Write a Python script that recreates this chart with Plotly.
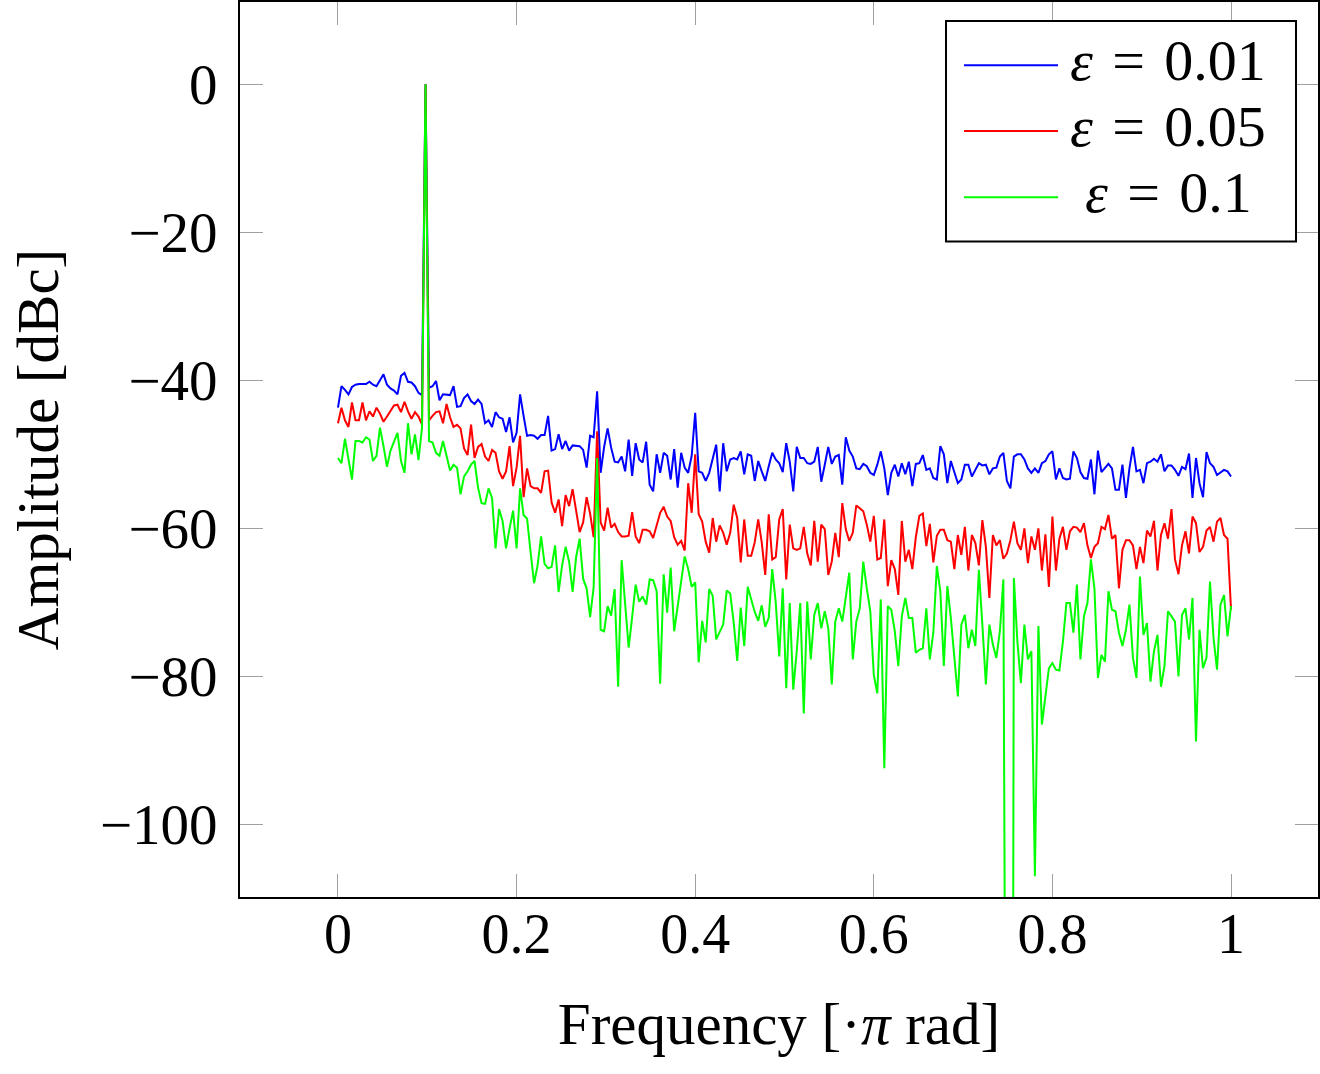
import numpy as np
import plotly.graph_objects as go

# ---------------- data ----------------
frequency = np.linspace(0.0, 1.0, 256)  # normalised frequency [·π rad], 256 bins

eps_001 = [
    -43.7, -40.8, -41.3, -41.9, -40.9, -40.6, -40.5, -40.5, -40.5, -40.2,
    -40.6, -40.8, -40.0, -39.2, -40.6, -41.1, -41.4, -41.9, -39.4, -39.0,
    -40.2, -40.3, -40.8, -41.7, -42.0, 0.0, -41.0, -40.8, -40.1, -42.7,
    -41.9, -41.9, -42.0, -40.8, -43.6, -43.5, -42.4, -41.9, -42.8, -43.2,
    -42.6, -43.2, -45.8, -45.4, -46.3, -44.3, -45.0, -45.2, -47.0, -45.0,
    -48.4, -47.1, -41.9, -44.8, -47.5, -47.4, -47.5, -47.9, -47.4, -47.4,
    -44.8, -49.5, -49.3, -47.3, -49.3, -48.2, -49.5, -48.8, -48.8, -48.9,
    -49.4, -51.8, -47.5, -47.7, -41.5, -52.5, -49.0, -46.5, -49.1, -51.0,
    -51.1, -50.3, -52.3, -48.0, -52.9, -48.5, -50.7, -51.1, -48.3, -54.1,
    -55.0, -50.0, -52.5, -49.8, -50.2, -53.4, -49.3, -54.5, -49.8, -51.8,
    -52.5, -50.2, -44.4, -52.3, -52.5, -53.6, -52.5, -50.5, -48.7, -55.0,
    -48.5, -52.3, -50.7, -50.5, -50.7, -49.6, -52.7, -50.0, -50.2, -53.6,
    -50.9, -52.3, -53.6, -51.6, -49.8, -50.7, -51.2, -52.4, -48.5, -51.0,
    -55.0, -49.0, -50.5, -50.5, -51.2, -51.3, -51.0, -49.0, -53.7, -51.4,
    -49.0, -51.3, -50.3, -50.1, -54.1, -47.7, -49.5, -50.3, -51.9, -52.0,
    -51.3, -51.6, -52.5, -52.8, -51.4, -49.6, -51.9, -55.5, -52.5, -51.4,
    -53.0, -51.2, -52.7, -51.0, -54.3, -51.3, -51.2, -50.1, -52.1, -51.9,
    -53.2, -53.4, -48.9, -50.0, -53.9, -50.9, -52.5, -53.9, -53.4, -51.4,
    -51.4, -53.0, -52.1, -51.2, -51.5, -51.4, -52.7, -51.9, -51.8, -50.3,
    -49.8, -53.6, -54.6, -50.3, -50.0, -50.0, -50.7, -51.9, -52.5, -51.9,
    -52.5, -51.2, -50.9, -50.0, -49.6, -53.4, -51.9, -53.2, -53.4, -53.3,
    -49.6, -50.5, -52.4, -53.2, -53.3, -50.7, -55.4, -49.5, -52.4, -51.8,
    -51.3, -51.9, -54.8, -54.8, -51.4, -55.9, -51.9, -49.0, -52.3, -52.1,
    -53.9, -51.2, -51.0, -50.6, -51.0, -50.0, -52.3, -51.5, -51.5, -52.1,
    -52.9, -51.7, -52.0, -49.9, -55.9, -50.5, -53.9, -55.8, -49.7, -51.2,
    -51.7, -52.8, -52.4, -52.1, -52.3, -53.0,
]

eps_005 = [
    -45.8, -43.7, -45.4, -46.3, -43.0, -45.4, -45.4, -43.0, -45.4, -44.2,
    -44.9, -43.7, -44.5, -45.6, -44.9, -44.2, -43.4, -43.3, -44.3, -42.9,
    -44.2, -45.2, -44.3, -44.9, -46.0, 0.0, -45.4, -44.8, -44.3, -44.2,
    -45.8, -43.2, -45.0, -46.3, -46.0, -46.5, -49.2, -50.1, -46.0, -50.5,
    -49.0, -48.6, -50.3, -50.9, -49.4, -49.8, -52.3, -53.3, -52.3, -48.9,
    -54.3, -51.8, -47.5, -55.8, -51.9, -54.3, -54.6, -54.6, -55.2, -52.3,
    -52.2, -56.5, -57.9, -56.1, -59.7, -55.5, -57.0, -54.7, -57.6, -60.5,
    -59.2, -55.8, -58.0, -61.2, -46.9, -59.2, -60.3, -57.2, -59.9, -59.4,
    -60.5, -61.1, -61.1, -61.0, -57.8, -61.1, -62.0, -60.2, -60.2, -60.4,
    -61.3, -59.7, -57.9, -57.1, -58.4, -59.0, -61.2, -62.2, -61.7, -63.0,
    -53.9, -57.9, -50.0, -58.1, -59.1, -61.8, -63.3, -58.6, -61.8, -59.6,
    -60.6, -62.2, -60.6, -56.8, -58.6, -64.6, -58.8, -63.7, -63.7, -61.9,
    -58.8, -61.9, -66.3, -58.1, -64.2, -63.9, -58.8, -57.4, -66.9, -59.5,
    -62.7, -62.9, -62.7, -59.8, -63.4, -65.0, -59.0, -64.5, -59.5, -60.1,
    -66.3, -64.5, -60.6, -63.9, -56.6, -60.1, -61.7, -60.6, -56.9, -57.3,
    -57.7, -59.5, -61.8, -58.3, -64.2, -64.0, -58.8, -67.8, -64.3, -65.5,
    -69.0, -59.0, -64.5, -62.9, -65.5, -61.2, -58.3, -58.0, -62.4, -59.4,
    -64.6, -61.0, -60.2, -60.2, -61.6, -61.8, -65.5, -60.9, -63.6, -59.8,
    -65.7, -60.9, -62.0, -65.0, -58.9, -62.5, -69.4, -60.9, -62.3, -61.6,
    -64.1, -63.4, -61.6, -59.1, -62.0, -62.9, -60.0, -64.7, -61.1, -62.9,
    -60.0, -65.7, -60.8, -67.9, -58.4, -65.7, -61.4, -59.8, -62.9, -60.4,
    -59.8, -59.9, -60.5, -59.3, -62.3, -64.0, -62.5, -62.0, -59.8, -60.1,
    -58.2, -61.4, -60.9, -68.1, -62.9, -61.6, -61.6, -62.3, -65.5, -62.5,
    -64.7, -60.3, -61.1, -59.0, -65.7, -60.9, -59.3, -61.4, -57.4, -64.2,
    -66.2, -62.3, -60.4, -63.4, -58.4, -59.3, -63.2, -62.5, -60.3, -59.8,
    -61.8, -59.1, -58.6, -60.9, -61.4, -71.0,
]

eps_01 = [
    -50.5, -51.2, -47.9, -50.5, -53.4, -48.2, -48.2, -48.4, -47.7, -48.0,
    -50.9, -50.2, -46.4, -48.9, -51.7, -49.5, -48.2, -47.1, -50.9, -52.5,
    -45.8, -50.0, -47.3, -50.8, -46.4, 0.0, -48.2, -48.4, -49.8, -50.2,
    -48.2, -50.2, -52.2, -51.4, -51.8, -55.4, -53.0, -52.3, -51.4, -50.9,
    -54.5, -56.6, -56.7, -54.6, -55.9, -62.7, -57.4, -59.0, -62.7, -60.0,
    -57.6, -62.7, -54.6, -58.2, -58.7, -63.2, -67.4, -65.0, -61.1, -64.8,
    -65.4, -65.2, -62.3, -68.6, -65.0, -62.5, -64.5, -68.6, -63.9, -61.4,
    -66.8, -68.1, -72.0, -68.0, -50.5, -73.7, -73.9, -70.5, -71.8, -68.2,
    -81.4, -64.3, -69.8, -76.1, -72.0, -67.6, -69.9, -69.2, -70.3, -66.9,
    -67.0, -68.5, -81.0, -66.2, -71.4, -65.3, -73.9, -70.3, -66.7, -63.8,
    -65.5, -67.9, -67.3, -78.1, -72.5, -75.4, -68.2, -69.1, -75.0, -74.1,
    -73.0, -68.4, -68.8, -72.7, -77.9, -70.7, -75.9, -67.9, -69.7, -71.3,
    -72.5, -70.4, -73.3, -72.1, -65.5, -70.0, -77.3, -68.1, -81.6, -70.1,
    -81.8, -76.6, -70.1, -85.0, -69.9, -77.7, -71.7, -70.1, -73.5, -71.2,
    -73.5, -81.1, -72.6, -70.8, -72.6, -69.4, -66.0, -77.7, -72.6, -70.8,
    -64.5, -68.1, -71.2, -79.8, -82.3, -69.6, -92.4, -70.5, -71.0, -73.9,
    -78.6, -71.9, -69.4, -72.1, -72.1, -76.8, -76.4, -76.2, -70.8, -77.7,
    -74.1, -65.1, -68.5, -78.6, -67.8, -72.1, -77.7, -82.7, -73.0, -71.7,
    -76.2, -73.7, -75.9, -65.6, -73.0, -81.1, -73.0, -75.7, -77.5, -73.9,
    -66.9, -300.0, -300.0, -66.7, -75.3, -80.9, -73.0, -77.7, -76.6, -107.0,
    -73.2, -86.5, -82.5, -78.9, -78.2, -79.1, -79.2, -75.3, -70.1, -70.1,
    -74.1, -67.6, -77.7, -71.9, -70.1, -64.2, -68.1, -80.2, -77.1, -78.0,
    -68.5, -71.0, -71.2, -74.1, -75.9, -73.7, -70.3, -77.5, -80.2, -66.5,
    -74.4, -72.8, -80.7, -76.6, -74.4, -81.4, -78.6, -71.2, -71.9, -72.6,
    -80.0, -71.7, -70.8, -75.0, -69.4, -88.8, -73.7, -78.9, -77.5, -67.2,
    -74.8, -79.1, -70.3, -69.0, -74.6, -70.5,
]

series_names = ["ε = 0.01", "ε = 0.05", "ε = 0.1"]
series_values = [eps_001, eps_005, eps_01]
series_colors = ["#0000ff", "#ff0000", "#00ff00"]

x_ticks = [0, 0.2, 0.4, 0.6, 0.8, 1]
x_tick_labels = ["0", "0.2", "0.4", "0.6", "0.8", "1"]
y_ticks = [-100, -80, -60, -40, -20, 0]

# ---------------- figure ----------------
W, H = 1320, 1074
ML, MR, MT, MB = 240, 2, 0, 177
PW, PH = W - ML - MR, H - MT - MB
FONT = "Liberation Serif"


def px_x(px):
    return (px - ML) / PW


def px_y(py):
    return 1 - (py - MT) / PH


fig = go.Figure()
for name, vals, col in zip(series_names, series_values, series_colors):
    fig.add_trace(go.Scatter(
        x=frequency, y=vals, mode="lines", name=name,
        line=dict(color=col, width=2), showlegend=False,
    ))

axis_common = dict(
    showline=True, linecolor="black", linewidth=2, mirror="ticks",
    ticks="inside", ticklen=23, tickwidth=1, tickcolor="#a0a0a0",
    showgrid=False, zeroline=False,
)

fig.update_xaxes(
    range=[-0.1097, 1.0974], tickvals=x_ticks, ticktext=x_tick_labels,
    ticklabelstandoff=-13,
    tickfont=dict(family=FONT, size=56, color="black"),
    title=dict(text="Frequency [·<i>π</i> rad]", standoff=38,
               font=dict(family=FONT, size=59, color="black")),
    **axis_common,
)
fig.update_yaxes(
    range=[-109.8, 11.1], tickvals=y_ticks,
    ticklabelstandoff=9,
    tickfont=dict(family=FONT, size=57, color="black"),
    title=dict(text="Amplitude [dBc]", standoff=22,
               font=dict(family=FONT, size=59, color="black")),
    **axis_common,
)

# legend drawn as a framed box (pgfplots style)
shapes = [dict(type="rect", xref="paper", yref="paper",
               x0=px_x(946), x1=px_x(1296), y0=px_y(240), y1=px_y(19),
               line=dict(color="black", width=2), fillcolor="white",
               layer="above")]
annotations = []
legend_rows = [63.3, 129.3, 195.7]
for name, col, ry in zip(series_names, series_colors, legend_rows):
    shapes.append(dict(type="line", xref="paper", yref="paper",
                       x0=px_x(964), x1=px_x(1058), y0=px_y(ry), y1=px_y(ry),
                       line=dict(color=col, width=2), layer="above"))
    annotations.append(dict(
        xref="paper", yref="paper", x=px_x(1168), y=px_y(ry - 5),
        xanchor="center", yanchor="middle", showarrow=False,
        text=name.replace("ε", "<i>ε</i>").replace(" = ", "\u2004=\u2004"),
        font=dict(family=FONT, size=58, color="black"),
    ))

fig.update_layout(
    width=W, height=H, autosize=False,
    margin=dict(l=ML, r=MR, t=MT, b=MB, pad=0),
    paper_bgcolor="white", plot_bgcolor="white",
    shapes=shapes, annotations=annotations,
    font=dict(family=FONT, color="black"),
)

fig.write_html(
    "out.html",
    config={"displayModeBar": False},
    post_script="document.body.style.margin='0';document.body.style.overflow='hidden';",
)
